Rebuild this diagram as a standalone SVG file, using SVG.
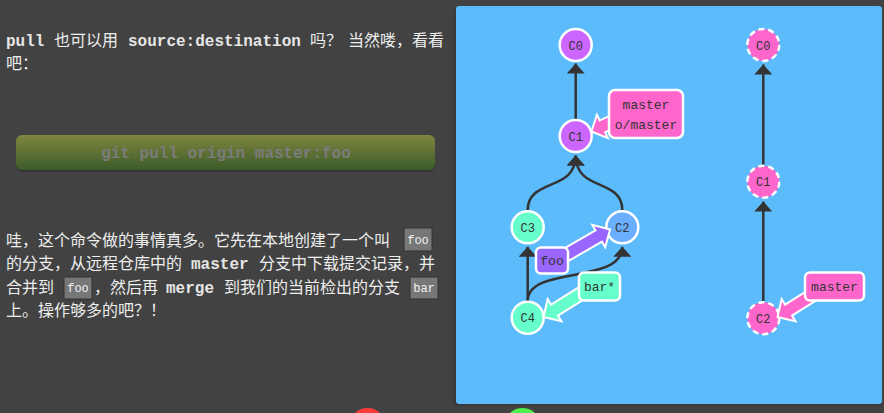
<svg xmlns="http://www.w3.org/2000/svg" width="884" height="413" viewBox="0 0 884 413">
<defs>
<style>
.bg{fill:#424242}
.t{font-family:"Liberation Sans","Noto Sans CJK SC",sans-serif;font-size:16px;fill:#eeeeee}
.m{font-family:"Liberation Mono",monospace;font-weight:bold;fill:#e6e6e6}
.cb{fill:#777777;stroke:#333333;stroke-width:1}
.ct{font-family:"Liberation Mono",monospace;font-size:12px;fill:#f2f2f2;text-anchor:middle}
.edge{fill:none;stroke:#333333;stroke-width:2.5;marker-end:url(#ah)}
.node{stroke:#ffffff;stroke-width:2.5}
.rem{stroke-dasharray:6 4}
.nt{font-family:"Liberation Mono",monospace;font-size:12px;fill:#333333;text-anchor:middle}
.lbl{stroke:#ffffff;stroke-width:2.5}
.lt{font-family:"Liberation Mono",monospace;font-size:13px;fill:#333333;text-anchor:middle}
.arr{stroke:#ffffff;stroke-width:2;stroke-linejoin:miter}
.purple{fill:#cc66ff}
.pink{fill:#ff66cc}
.mint{fill:#66ffcc}
.blue{fill:#6aaeff}
.violet{fill:#9966ff}
</style>
<marker id="ah" viewBox="0 -9 10 18" refX="10" refY="0" markerWidth="10" markerHeight="18" orient="auto" markerUnits="userSpaceOnUse">
<path d="M0,-9 L10,0 L0,9 Z" fill="#333333"/>
</marker>
<linearGradient id="btn" x1="0" y1="0" x2="0" y2="1">
<stop offset="0" stop-color="#80853f"/>
<stop offset="1" stop-color="#3b5c2a"/>
</linearGradient>
</defs>
<rect class="bg" x="0" y="0" width="884" height="413"/>

<g id="intro">
<text class="t" y="46"><tspan class="m" x="6">pull</tspan><tspan x="54">也可以用</tspan><tspan class="m" x="128">source:destination</tspan><tspan x="310">吗？</tspan><tspan x="348">当然喽，看看</tspan></text>
<text class="t" x="6" y="69">吧：</text>
</g>

<g id="command-button">
<rect x="16" y="137" width="419" height="35" rx="6" fill="#2e2e2e" opacity="0.6"/>
<rect x="16" y="135" width="419" height="35" rx="6" fill="url(#btn)"/>
<text x="226" y="158" text-anchor="middle" font-family="Liberation Mono, monospace" font-size="16" font-weight="bold" fill="#7c7c7c">git pull origin master:foo</text>
</g>

<g id="explanation">
<text class="t" y="246"><tspan x="6">哇，这个命令做的事情真多。它先在本地创建了一个叫</tspan></text>
<rect class="cb" x="404" y="228" width="28" height="23"/>
<text class="ct" x="418" y="244">foo</text>
<text class="t" y="269"><tspan x="6">的分支，从远程仓库中的</tspan><tspan class="m" x="191">master</tspan><tspan x="259">分支中下载提交记录，并</tspan></text>
<text class="t" y="293"><tspan x="6">合并到</tspan><tspan x="94">，然后再</tspan><tspan class="m" x="166">merge</tspan><tspan x="224">到我们的当前检出的分支</tspan></text>
<rect class="cb" x="64" y="277" width="28" height="22"/>
<text class="ct" x="78" y="292">foo</text>
<rect class="cb" x="410" y="277" width="28" height="22"/>
<text class="ct" x="424" y="292">bar</text>
<text class="t" x="6" y="316">上。操作够多的吧？！</text>
</g>

<g id="canvas">
<rect x="453" y="8" width="429" height="398" rx="3" fill="#2a2a2a" opacity="0.35"/>
<rect x="456" y="6" width="426" height="398" rx="3" fill="#5cbbfb"/>
</g>

<g id="connectors">
<path class="edge" d="M575.7,119 L575.7,63.5"/>
<path class="edge" d="M527.7,210 C527.7,178 575.7,192 575.7,155.5"/>
<path class="edge" d="M622.3,210 C622.3,178 575.7,192 575.7,155.5"/>
<path class="edge" d="M527.7,301 L527.7,246.7"/>
<path class="edge" d="M527.7,301 C527.7,265 622.3,285 622.3,246.7"/>
<path class="edge" d="M763.3,165 L763.3,64.5"/>
<path class="edge" d="M763.3,301 L763.3,201.5"/>
</g>

<g id="local-C0"><circle class="node purple" cx="575.7" cy="45" r="16"/><text class="nt" x="575.7" y="49.5">C0</text></g>
<g id="local-C1"><circle class="node purple" cx="575.7" cy="136" r="16"/><text class="nt" x="575.7" y="140.5">C1</text></g>
<g id="local-C3"><circle class="node mint" cx="527.7" cy="227.3" r="16"/><text class="nt" x="527.7" y="231.8">C3</text></g>
<g id="local-C2"><circle class="node blue" cx="622.3" cy="227.3" r="16"/><text class="nt" x="622.3" y="231.8">C2</text></g>
<g id="local-C4"><circle class="node mint" cx="527.7" cy="317.7" r="16"/><text class="nt" x="527.7" y="322.2">C4</text></g>

<g id="remote-C0"><circle class="node rem pink" cx="763.3" cy="45" r="16"/><text class="nt" x="763.3" y="49.5">C0</text></g>
<g id="remote-C1"><circle class="node rem pink" cx="763.3" cy="181.7" r="16"/><text class="nt" x="763.3" y="186.2">C1</text></g>
<g id="remote-C2"><circle class="node rem pink" cx="763.3" cy="318.3" r="16"/><text class="nt" x="763.3" y="322.8">C2</text></g>

<g id="label-master-local">
<polygon class="arr pink" transform="translate(591.5,131.5) rotate(155)" points="0,0 -12,-13 -12,-6.5 -42,-6.5 -42,6.5 -12,6.5 -12,13"/>
<rect class="lbl pink" x="609" y="90" width="74" height="48" rx="6"/>
<text class="lt" x="646" y="108.5">master</text>
<text class="lt" x="646" y="128.5">o/master</text>
</g>

<g id="label-foo">
<polygon class="arr violet" transform="translate(610,229.5) rotate(-30)" points="0,0 -13,-13 -13,-6.5 -62,-6.5 -62,6.5 -13,6.5 -13,13"/>
<rect class="lbl violet" x="536" y="247.5" width="32" height="26" rx="5"/>
<text class="lt" x="552" y="265">foo</text>
</g>

<g id="label-bar">
<polygon class="arr mint" transform="translate(543.5,317) rotate(148)" points="0,0 -13,-13 -13,-6.5 -60,-6.5 -60,6.5 -13,6.5 -13,13"/>
<rect class="lbl mint" x="579" y="272.5" width="41" height="28" rx="5"/>
<text class="lt" x="599.5" y="291">bar*</text>
</g>

<g id="label-master-remote">
<polygon class="arr pink" transform="translate(777.5,317) rotate(148)" points="0,0 -13,-13 -13,-6.5 -52,-6.5 -52,6.5 -13,6.5 -13,13"/>
<rect class="lbl pink" x="805" y="272.5" width="59" height="28" rx="5"/>
<text class="lt" x="834.5" y="291">master</text>
</g>

<g id="bottom-buttons">
<circle cx="367.5" cy="426" r="18" fill="#ff3b3b"/>
<circle cx="522.5" cy="426" r="18" fill="#4df04d"/>
</g>
</svg>
